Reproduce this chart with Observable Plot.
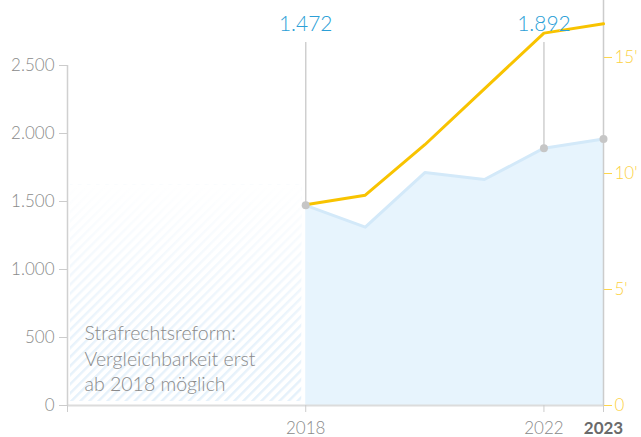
<!DOCTYPE html>
<html>
<head>
<meta charset="utf-8">
<script src="https://cdn.jsdelivr.net/npm/d3@7"></script>
<script src="https://cdn.jsdelivr.net/npm/@observablehq/plot@0.6"></script>
<style>
  html, body { margin: 0; padding: 0; background: #fff; }
  svg { font-family: "Lato", "Open Sans", sans-serif; font-weight: 300; }
</style>
</head>
<body>
<div id="chart"></div>
<script>
// ---- data ----
const years = [2018, 2019, 2020, 2021, 2022, 2023];
const blueValues = [1472, 1311, 1713, 1662, 1892, 1960];          // left axis
const yellowValues = [8650, 9065, 11240, 13650, 16050, 16450];    // right axis
const leftTicks = [0, 500, 1000, 1500, 2000, 2500];
const rightTicks = [0, 5000, 10000, 15000];
const rightTickLabels = ["0", "5'", "10'", "15'"];
const xTicks = [2014, 2018, 2022];
const xTickLabels = ["", "2018", "2022"];
const xBoldTicks = [2023];
const calloutYears = [2018, 2022];
const calloutLabels = ["1.472", "1.892"];
const dotYears = [2018, 2022, 2023];
const hatchStart = 2014;
const hatchEnd = 2018;
const hatchTop = 1620;
const calloutRuleTop = 2669;
const calloutLabelY = 2800;
const noteY = 353;
const noteText = "Strafrechtsreform:\nVergleichbarkeit erst\nab 2018 möglich";

// right axis (15000) aligns with left value 2559
const toLeft = d3.scaleLinear([0, 15000], [0, 2559]);
const fmtDE = d3.formatLocale({decimal: ",", thousands: ".", grouping: [3], currency: ["", "€"]}).format(",d");

const blue = years.map((year, i) => ({year, value: blueValues[i]}));
const yellow = years.map((year, i) => ({year, value: toLeft(yellowValues[i])}));
const dots = blue.filter(d => dotYears.includes(d.year));
const callouts = calloutYears.map((year, i) => ({year, label: calloutLabels[i], value: blueValues[years.indexOf(year)]}));
const hatchRect = [{x1: hatchStart, x2: hatchEnd, y1: 0, y2: hatchTop}];

const defsMark = () => {
  const defs = d3.create("svg:defs");
  const p = defs.append("pattern").attr("id", "hatch").attr("patternUnits", "userSpaceOnUse")
    .attr("width", 6.4).attr("height", 6.4).attr("patternTransform", "rotate(45)");
  p.append("rect").attr("x", 0).attr("y", 0).attr("width", 2.4).attr("height", 6.4).attr("fill", "#e5f1fb");
  const g = defs.append("linearGradient").attr("id", "fade").attr("x1", 0).attr("y1", 0).attr("x2", 0).attr("y2", 1);
  g.append("stop").attr("offset", "0").attr("stop-color", "#fff").attr("stop-opacity", 1);
  g.append("stop").attr("offset", "0.7").attr("stop-color", "#fff").attr("stop-opacity", 0.15);
  g.append("stop").attr("offset", "1").attr("stop-color", "#fff").attr("stop-opacity", 0);
  return defs.node();
};

const chart = Plot.plot({
  width: 641,
  height: 437,
  marginLeft: 67,
  marginRight: 38,
  marginTop: 0,
  marginBottom: 32,
  style: {fontFamily: "Lato, 'Open Sans', sans-serif", fontSize: "17px", background: "#fff"},
  x: {domain: [2014, 2023], axis: null},
  y: {domain: [0, 2978], axis: null},
  marks: [
    defsMark,
    // hatched period before reform, fading to the top
    Plot.rect(hatchRect, {x1: "x1", x2: "x2", y1: "y1", y2: "y2", fill: "url(#hatch)", insetLeft: 3, insetRight: 4, insetBottom: 4}),
    Plot.rect(hatchRect, {x1: "x1", x2: "x2", y1: "y1", y2: "y2", fill: "url(#fade)", insetLeft: 3, insetRight: 4, insetBottom: 4}),
    // blue area
    Plot.areaY(blue, {x: "year", y: "value", fill: "#e7f4fd"}),
    Plot.line(blue, {x: "year", y: "value", stroke: "#d3e9f9", strokeWidth: 3}),
    // baseline
    Plot.ruleY([0], {stroke: "#dcdcdc", strokeWidth: 2}),
    // left axis line
    Plot.ruleX([2014], {y1: 0, y2: 2500, stroke: "#d0d0d0", strokeWidth: 1.5}),
    // right axis line
    Plot.ruleX([2023], {stroke: "#cccccc", strokeWidth: 1.5}),
    // callout rules
    Plot.ruleX(callouts, {x: "year", y1: "value", y2: calloutRuleTop, stroke: "#cfcfcf", strokeWidth: 1.5}),
    // yellow line
    Plot.line(yellow, {x: "year", y: "value", stroke: "#f8c300", strokeWidth: 3}),
    // dots
    Plot.dot(dots, {x: "year", y: "value", r: 4, fill: "#c6c6c6"}),
    // callout labels
    Plot.text(callouts, {x: "year", y: () => calloutLabelY, text: "label", fill: "#2c9fd7", fontSize: 21, fontWeight: 300}),
    // note
    Plot.text([noteText], {x: hatchStart, y: noteY, text: d => d, textAnchor: "start", dx: 17, lineAnchor: "middle", lineHeight: 1.31, fill: "#8a8a8a", fontSize: 19.5, fontWeight: 300}),
    // left axis
    Plot.axisY(leftTicks, {anchor: "left", tickSize: 8, tickPadding: 5, tickFormat: fmtDE, stroke: "#cccccc", fill: "#8a8a8a", fontSize: 17, fontWeight: 300}),
    // right axis
    Plot.axisY(rightTicks.map(v => toLeft(v)), {anchor: "right", tickSize: 8, tickPadding: 3,
      tickFormat: (d) => rightTickLabels[rightTicks.findIndex(v => Math.abs(toLeft(v) - d) < 1e-6)],
      stroke: "#fdd54a", fill: "#fcd13f", fontSize: 17, fontWeight: 300}),
    // x axis
    Plot.axisX(xTicks, {anchor: "bottom", tickSize: 7, tickPadding: 9,
      tickFormat: d => xTickLabels[xTicks.indexOf(d)], stroke: "#cccccc", fill: "#8a8a8a", fontSize: 17, fontWeight: 300}),
    Plot.axisX(xBoldTicks, {anchor: "bottom", tickSize: 7, tickPadding: 9, tickFormat: d => String(d),
      stroke: "#cccccc", fill: "#6a6a6a", fontSize: 17, fontWeight: 700})
  ]
});
document.getElementById("chart").append(chart);
</script>
</body>
</html>
